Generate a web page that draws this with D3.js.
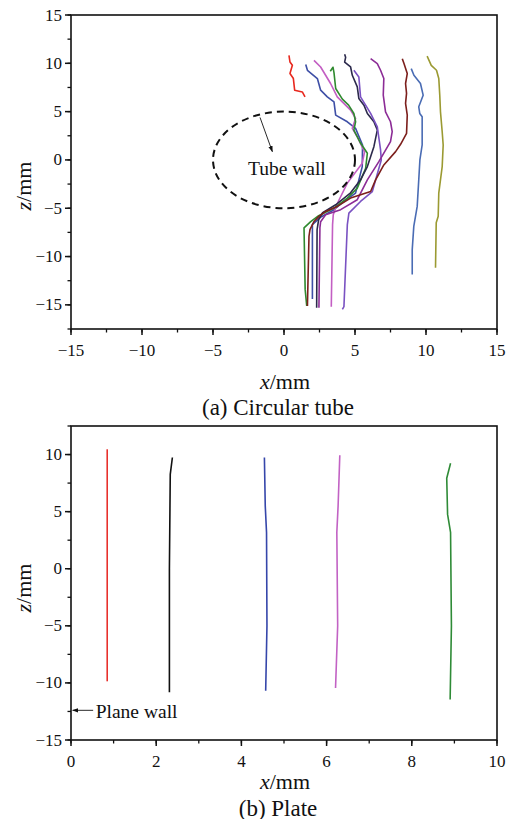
<!DOCTYPE html>
<html>
<head>
<meta charset="utf-8">
<script src="https://cdn.jsdelivr.net/npm/d3@7"></script>
<style>
  html, body { margin: 0; padding: 0; background: #fff; }
  svg { display: block; }
  text { font-family: "Liberation Serif", "Times New Roman", serif; fill: #111; }
</style>
</head>
<body>
<svg id="chart" width="509" height="819"></svg>
<script>
// ---- (a) Circular tube: particle trajectories [x (mm), z (mm)] ----
const tubeRed     = [[0.35,10.82],[0.42,10.14],[0.59,9.79],[0.42,8.94],[0.66,8.42],[0.75,7.22],[1.29,7.04],[1.48,6.53]];
const tubeBlue    = [[1.53,9.87],[1.65,9.28],[2.35,8.42],[2.58,7.22],[3.05,6.53],[3.52,6.01],[3.64,4.64],[4.46,3.95],[5.04,3.27],[5.53,1.55],[5.51,-0.69],[5.04,-3.43],[4.22,-4.3],[3.52,-5.15],[2.6,-5.9],[2.0,-6.7],[2.0,-14.4]];
const tubeMagenta = [[2.11,10.31],[2.58,9.62],[3.28,7.91],[3.75,6.53],[4.69,5.15],[5.04,4.3],[4.81,3.27],[5.16,2.4],[5.67,0.82],[5.51,-0.34],[4.46,-2.4],[3.71,-4.64],[3.47,-5.67],[3.42,-6.7],[3.33,-15.19]];
const tubeGreen   = [[3.26,9.18],[3.45,9.59],[3.52,9.04],[3.64,7.39],[4.11,6.29],[4.55,5.67],[4.92,4.81],[5.04,3.95],[4.92,3.09],[5.39,1.75],[5.87,0.69],[5.75,-0.86],[5.16,-2.92],[4.46,-3.95],[3.52,-4.98],[2.44,-5.77],[1.88,-6.39],[1.41,-7.04],[1.49,-13.4],[1.6,-15.12]];
const tubeNavy    = [[4.27,10.93],[4.34,10.62],[4.27,10.13],[4.69,9.62],[4.81,8.76],[5.16,7.56],[5.27,6.36],[5.63,5.67],[5.87,4.81],[6.33,3.95],[6.57,3.09],[6.33,1.37],[5.87,-0.69],[5.39,-2.06],[4.69,-3.4],[3.64,-4.64],[2.72,-5.46],[2.44,-6.19],[2.33,-7.22],[2.3,-15.29]];
const tubeViolet  = [[4.92,9.28],[5.27,8.59],[5.39,6.53],[6.10,4.81],[6.57,3.43],[6.80,1.03],[6.85,0],[6.22,-3.27],[5.39,-4.3],[4.57,-5.5],[4.46,-6.7],[4.22,-15.19],[4.11,-15.46]];
const tubePurple  = [[6.1,10.48],[6.57,9.97],[6.8,9.28],[7.03,8.42],[6.99,6.7],[7.15,4.98],[7.5,3.95],[7.62,2.92],[7.5,1.89],[6.68,-0.18],[5.87,-2.06],[5.16,-4.12],[3.99,-5.15],[2.93,-5.67],[2.58,-6.39],[2.53,-7.0],[2.46,-15.29]];
const tubeMaroon  = [[8.33,10.48],[8.45,9.97],[8.68,8.94],[8.56,7.91],[8.63,6.88],[8.56,5.85],[8.68,4.64],[8.63,2.75],[8.21,1.62],[7.86,0.86],[7.03,-0.52],[6.45,-2.06],[6.1,-3.27],[4.69,-3.95],[3.75,-4.81],[2.93,-5.33],[2.46,-5.84],[2.1,-6.4],[1.83,-7.22],[1.76,-7.9],[1.65,-15.12]];
const tubeBlue2   = [[8.96,9.45],[9.15,8.76],[9.61,7.91],[9.8,6.7],[9.49,5.5],[9.56,4.81],[9.73,4.47],[9.73,1.55],[9.57,0],[9.49,-2.06],[9.38,-4.81],[9.14,-6.88],[9.03,-9.28],[9.03,-11.86]];
const tubeOlive   = [[10.08,10.75],[10.37,9.79],[10.74,9.28],[10.9,8.42],[10.97,6.7],[11.02,4.98],[11.14,2.92],[11.21,1.55],[11.14,-0.69],[10.9,-3.43],[10.86,-5.84],[10.72,-6.5],[10.67,-11.16]];

const tubeSeries = [tubeRed, tubeBlue, tubeMagenta, tubeGreen, tubeNavy, tubeViolet, tubePurple, tubeMaroon, tubeBlue2, tubeOlive];
const tubeColors = ["#e8281e", "#3e4fa6", "#c35ec3", "#2f8a2f", "#2c2a4c", "#7a52c2", "#8c2c96", "#7c1f1c", "#4a6cb4", "#9b9a32"];

// Tube wall outline (circle of radius 5 mm) and its annotation arrow
const wallRadius = 5;
const wallArrow = [[-1.69, 4.4], [-0.82, 0.85]];

// ---- (b) Plate: particle trajectories ----
const plateRed     = [[0.85,10.46],[0.85,-9.86]];
const plateBlack   = [[2.38,9.74],[2.33,8.27],[2.31,0],[2.31,-10.82]];
const plateBlue    = [[4.54,9.74],[4.56,5.5],[4.59,3.18],[4.6,-5],[4.57,-10.68]];
const plateMagenta = [[6.31,9.94],[6.27,5.5],[6.24,3.18],[6.26,-5],[6.21,-10.44]];
const plateGreen   = [[8.91,9.24],[8.82,7.92],[8.84,4.76],[8.91,3.18],[8.93,-5],[8.9,-11.46]];

const plateSeries = [plateRed, plateBlack, plateBlue, plateMagenta, plateGreen];
const plateColors = ["#e8302c", "#111111", "#3546aa", "#c262c4", "#2f8b37"];
const planeWallZ = -12.4;

// Axis ticks
const tubeXTicks = [-15, -10, -5, 0, 5, 10, 15];
const tubeZTicks = [-15, -10, -5, 0, 5, 10, 15];
const plateXTicks = [0, 2, 4, 6, 8, 10];
const plateZTicks = [-15, -10, -5, 0, 5, 10];

const svg = d3.select("#chart");
const fmt = v => (v < 0 ? "\u2212" + Math.abs(v) : String(v));

function drawPanel(opt) {
  const g = svg.append("g");
  const x = d3.scaleLinear().domain(opt.xDomain).range([opt.left, opt.right]);
  const y = d3.scaleLinear().domain(opt.yDomain).range([opt.bottom, opt.top]);

  // minor ticks
  const minorX = d3.range(opt.xDomain[0], opt.xDomain[1] + 1e-9, opt.xMinor);
  const minorY = d3.range(opt.yDomain[0], opt.yDomain[1] + 1e-9, opt.yMinor);
  g.selectAll(".mx").data(minorX).join("line")
    .attr("x1", d => x(d)).attr("x2", d => x(d))
    .attr("y1", opt.bottom).attr("y2", opt.bottom + 3.5)
    .attr("stroke", "#111").attr("stroke-width", 1.3);
  g.selectAll(".my").data(minorY).join("line")
    .attr("y1", d => y(d)).attr("y2", d => y(d))
    .attr("x1", opt.left).attr("x2", opt.left - 3.5)
    .attr("stroke", "#111").attr("stroke-width", 1.3);

  // major ticks + labels
  g.selectAll(".Mx").data(opt.xTicks).join("line")
    .attr("x1", d => x(d)).attr("x2", d => x(d))
    .attr("y1", opt.bottom).attr("y2", opt.bottom + 6)
    .attr("stroke", "#111").attr("stroke-width", 1.5);
  g.selectAll(".Mxl").data(opt.xTicks).join("text")
    .attr("x", d => x(d)).attr("y", opt.bottom + 21)
    .attr("text-anchor", "middle").attr("dominant-baseline", "central")
    .attr("font-size", 17).text(fmt);
  g.selectAll(".My").data(opt.yTicks).join("line")
    .attr("y1", d => y(d)).attr("y2", d => y(d))
    .attr("x1", opt.left).attr("x2", opt.left - 6)
    .attr("stroke", "#111").attr("stroke-width", 1.5);
  g.selectAll(".Myl").data(opt.yTicks).join("text")
    .attr("x", opt.left - 9).attr("y", d => y(d))
    .attr("text-anchor", "end").attr("dominant-baseline", "central")
    .attr("font-size", 17).text(fmt);

  // frame
  g.append("rect")
    .attr("x", opt.left).attr("y", opt.top)
    .attr("width", opt.right - opt.left).attr("height", opt.bottom - opt.top)
    .attr("fill", "none").attr("stroke", "#111").attr("stroke-width", 1.6);

  // axis titles
  const xt = g.append("text")
    .attr("x", (opt.left + opt.right) / 2 + 1).attr("y", opt.xTitleY)
    .attr("text-anchor", "middle").attr("dominant-baseline", "central")
    .attr("font-size", 22);
  xt.append("tspan").attr("font-style", "italic").text("x");
  xt.append("tspan").text("/mm");

  const yt = g.append("text")
    .attr("transform", `translate(${opt.yTitleX},${opt.yTitleY}) rotate(-90)`)
    .attr("text-anchor", "middle").attr("dominant-baseline", "central")
    .attr("font-size", 22);
  yt.append("tspan").attr("font-style", "italic").text("z");
  yt.append("tspan").text("/mm");

  g.append("text")
    .attr("x", (opt.left + opt.right) / 2 - 6).attr("y", opt.captionY)
    .attr("text-anchor", "middle").attr("dominant-baseline", "central")
    .attr("font-size", 23).text(opt.caption);

  // trajectories
  const line = d3.line().x(d => x(d[0])).y(d => y(d[1]));
  g.selectAll(".traj").data(opt.series).join("path")
    .attr("d", line)
    .attr("fill", "none")
    .attr("stroke", (d, i) => opt.colors[i])
    .attr("stroke-width", 1.6)
    .attr("stroke-linejoin", "round");

  return { g, x, y };
}

svg.append("defs").append("marker")
  .attr("id", "arrowHead").attr("viewBox", "0 0 10 10")
  .attr("refX", 9).attr("refY", 5)
  .attr("markerWidth", 7).attr("markerHeight", 7)
  .attr("orient", "auto-start-reverse")
  .append("path").attr("d", "M0,1.5 L10,5 L0,8.5 Z").attr("fill", "#111");

// (a) Circular tube
const a = drawPanel({
  left: 71, right: 497, top: 15, bottom: 329,
  xDomain: [-15, 15], yDomain: [-17.5, 15],
  xMinor: 2.5, yMinor: 2.5,
  xTicks: tubeXTicks, yTicks: tubeZTicks,
  series: tubeSeries, colors: tubeColors,
  xTitleY: 381, yTitleX: 23, yTitleY: 186,
  caption: "(a) Circular tube", captionY: 407
});

a.g.append("ellipse")
  .attr("cx", a.x(0)).attr("cy", a.y(0))
  .attr("rx", a.x(wallRadius) - a.x(0)).attr("ry", a.y(0) - a.y(wallRadius))
  .attr("fill", "none").attr("stroke", "#111")
  .attr("stroke-width", 2).attr("stroke-dasharray", "7,5");
a.g.append("line")
  .attr("x1", a.x(wallArrow[0][0])).attr("y1", a.y(wallArrow[0][1]))
  .attr("x2", a.x(wallArrow[1][0])).attr("y2", a.y(wallArrow[1][1]))
  .attr("stroke", "#111").attr("stroke-width", 0.9)
  .attr("marker-end", "url(#arrowHead)");
a.g.append("text")
  .attr("x", a.x(0.2)).attr("y", a.y(-0.85))
  .attr("text-anchor", "middle").attr("dominant-baseline", "central")
  .attr("font-size", 19.5).text("Tube wall");

// (b) Plate
const b = drawPanel({
  left: 71, right: 497, top: 426, bottom: 740,
  xDomain: [0, 10], yDomain: [-15, 12.5],
  xMinor: 1, yMinor: 2.5,
  xTicks: plateXTicks, yTicks: plateZTicks,
  series: plateSeries, colors: plateColors,
  xTitleY: 781, yTitleX: 23, yTitleY: 588,
  caption: "(b) Plate", captionY: 808
});

b.g.append("line")
  .attr("x1", b.x(0.52)).attr("y1", b.y(planeWallZ))
  .attr("x2", b.x(0.04)).attr("y2", b.y(planeWallZ))
  .attr("stroke", "#111").attr("stroke-width", 0.9)
  .attr("marker-end", "url(#arrowHead)");
b.g.append("text")
  .attr("x", b.x(0.58)).attr("y", b.y(planeWallZ) + 1)
  .attr("text-anchor", "start").attr("dominant-baseline", "central")
  .attr("font-size", 19.5).text("Plane wall");
</script>
</body>
</html>
